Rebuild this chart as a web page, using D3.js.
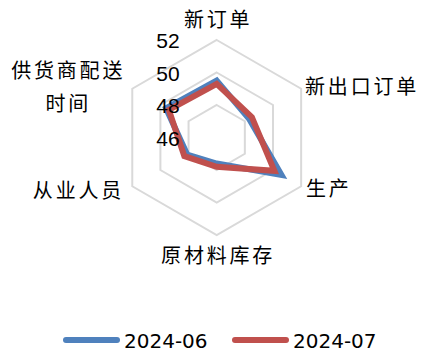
<!DOCTYPE html>
<html><head><meta charset="utf-8">
<script src="https://cdn.jsdelivr.net/npm/d3@7"></script>
<style>html,body{margin:0;padding:0;background:#fff;}svg{display:block;}</style>
</head><body>
<svg id="c" width="422" height="353"></svg>
<script>
const categories = ["新订单","新出口订单","生产","原材料库存","从业人员","供货商配送时间"];
const seriesNames = ["2024-06","2024-07"];
const values202406 = [49.5, 48.3, 50.6, 47.6, 48.1, 49.6];
const values202407 = [49.3, 48.5, 50.1, 47.8, 48.3, 49.4];
const ticks = [46, 48, 50, 52];
const colors = ["#4F81BD", "#C0504D"];

const svg = d3.select("#c");
const cx = 216.7, cy = 137.5, R = 97.5;
const r = d3.scaleLinear().domain([46, 52]).range([0, R]);
const ang = d3.scalePoint().domain(categories).range([0, 300]);
const angleOf = c => (ang(c) - 90) * Math.PI / 180;
const pt = (c, v) => [cx + r(v) * Math.cos(angleOf(c)), cy + r(v) * Math.sin(angleOf(c))];

const g = svg.append("g");
// grid hexagons
ticks.slice(1).forEach(t => {
  g.append("path")
    .attr("d", d3.line()(categories.map(c => pt(c, t))) + "Z")
    .attr("fill", "none").attr("stroke", "#D9D9D9").attr("stroke-width", 2);
});

// series
const series = [values202406, values202407];
series.forEach((vals, i) => {
  g.append("path")
    .attr("d", d3.line()(categories.map((c, k) => pt(c, vals[k]))) + "Z")
    .attr("fill", "none").attr("stroke", colors[i]).attr("stroke-width", 6)
    .attr("stroke-linejoin", "miter");
});

// tick labels
g.selectAll("text.tick").data(ticks).enter().append("text")
  .attr("x", cx - 37).attr("y", d => cy - r(d) + 8)
  .attr("text-anchor", "end")
  .attr("font-family", "Liberation Sans, Arial, sans-serif")
  .attr("font-size", 21).attr("fill", "#000")
  .text(d => d);

// category labels
const cjk = "'Noto Sans CJK SC', sans-serif";
const fs = 20, ls = "2.8px";
const labelPos = {
  "新订单": {r: 118, anchor: "middle"},
  "新出口订单": {r: 102, anchor: "start"},
  "生产": {r: 103, anchor: "start"},
  "原材料库存": {r: 118, anchor: "middle"},
  "从业人员": {r: 107, anchor: "end"}
};
categories.forEach(c => {
  const lp = labelPos[c];
  const a = angleOf(c);
  if (lp) {
    g.append("text")
      .attr("x", cx + lp.r * Math.cos(a) + (lp.anchor === "middle" ? 1.4 : 0))
      .attr("y", cy + lp.r * Math.sin(a))
      .attr("dy", "0.35em")
      .attr("text-anchor", lp.anchor)
      .attr("font-family", cjk).attr("font-size", fs)
      .attr("letter-spacing", ls).attr("fill", "#000")
      .text(c);
  } else {
    const bx = cx + 101 * Math.cos(a) - 61, by = cy + 101 * Math.sin(a);
    const t = g.append("text").attr("text-anchor", "middle")
      .attr("font-family", cjk).attr("font-size", fs)
      .attr("letter-spacing", ls).attr("fill", "#000");
    t.append("tspan").attr("x", bx).attr("y", by - 16).attr("dy", "0.35em").text(c.slice(0, 5));
    t.append("tspan").attr("x", bx).attr("y", by + 16.5).attr("dy", "0.35em").text(c.slice(5));
  }
});

// legend
const legX = [63, 232];
seriesNames.forEach((s, i) => {
  svg.append("line").attr("x1", legX[i] + 3).attr("x2", legX[i] + 54)
    .attr("y1", 340).attr("y2", 340)
    .attr("stroke", colors[i]).attr("stroke-width", 6).attr("stroke-linecap", "round");
  svg.append("text").attr("x", legX[i] + 61).attr("y", 348)
    .attr("font-family", "DejaVu Sans, sans-serif").attr("font-size", 20)
    .attr("fill", "#000").text(s);
});
</script>
</body></html>
